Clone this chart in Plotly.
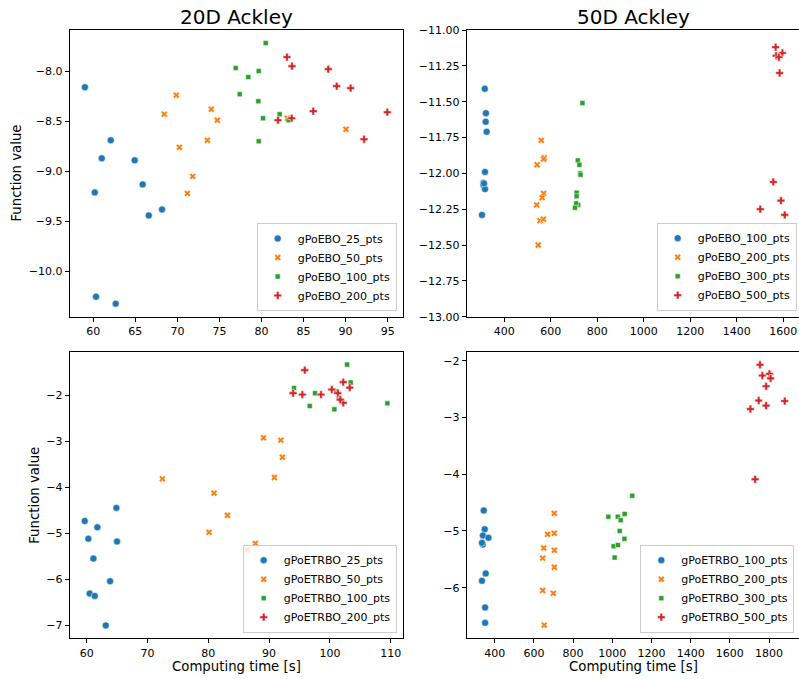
import plotly.graph_objects as go

# ---------------- data ----------------
# 20D Ackley, gPoEBO
ebo20_names = ["gPoEBO_25_pts", "gPoEBO_50_pts", "gPoEBO_100_pts", "gPoEBO_200_pts"]
ebo20_25_t = [59.0, 62.07, 61.0, 64.92, 60.17, 65.87, 66.59, 68.17, 60.32, 62.66]
ebo20_25_f = [-8.16, -8.69, -8.87, -8.89, -9.21, -9.13, -9.44, -9.38, -10.25, -10.32]
ebo20_50_t = [69.87, 68.44, 74.03, 74.74, 70.23, 73.56, 71.82, 71.18, 90.05, 83.07]
ebo20_50_f = [-8.24, -8.43, -8.38, -8.49, -8.76, -8.69, -9.05, -9.22, -8.58, -8.47]
ebo20_100_t = [80.5, 76.93, 79.67, 78.43, 77.41, 79.62, 82.16, 80.18, 79.67, 83.23]
ebo20_100_f = [-7.72, -7.97, -8.0, -8.06, -8.23, -8.30, -8.43, -8.47, -8.70, -8.49]
ebo20_200_t = [83.03, 83.63, 87.94, 88.94, 90.6, 86.16, 94.96, 81.96, 83.59, 92.19]
ebo20_200_f = [-7.86, -7.95, -7.98, -8.15, -8.17, -8.40, -8.41, -8.49, -8.47, -8.68]

# 50D Ackley, gPoEBO
ebo50_names = ["gPoEBO_100_pts", "gPoEBO_200_pts", "gPoEBO_300_pts", "gPoEBO_500_pts"]
ebo50_100_t = [316, 321, 320, 324, 317, 310, 310, 317, 304, 313]
ebo50_100_f = [-11.41, -11.58, -11.64, -11.71, -11.99, -12.065, -12.08, -12.11, -12.29, -12.07]
ebo50_200_t = [559, 572, 569, 541, 569, 563, 539, 553, 568, 546]
ebo50_200_f = [-11.77, -11.89, -11.90, -11.94, -12.14, -12.17, -12.22, -12.33, -12.32, -12.50]
ebo50_300_t = [736, 716, 723, 726, 711, 711, 718, 709, 704, 728]
ebo50_300_f = [-11.51, -11.91, -11.94, -12.00, -12.135, -12.16, -12.22, -12.21, -12.24, -12.01]
ebo50_500_t = [1567, 1596, 1569, 1581, 1584, 1557, 1590, 1606, 1501, 1460]
ebo50_500_f = [-11.12, -11.16, -11.18, -11.19, -11.30, -12.06, -12.19, -12.29, -12.25, -12.44]

# 20D Ackley, gPoETRBO
etr20_names = ["gPoETRBO_25_pts", "gPoETRBO_50_pts", "gPoETRBO_100_pts", "gPoETRBO_200_pts"]
etr20_25_t = [59.67, 60.27, 61.75, 64.88, 64.99, 61.1, 63.84, 60.49, 61.32, 63.13]
etr20_25_f = [-4.735, -5.12, -4.87, -4.45, -5.18, -5.55, -6.04, -6.31, -6.36, -7.0]
etr20_50_t = [72.45, 89.06, 91.91, 92.18, 90.87, 80.94, 83.14, 80.12, 87.74, 86.43]
etr20_50_f = [-3.82, -2.93, -2.98, -3.35, -3.79, -4.13, -4.61, -4.98, -5.22, -5.36]
etr20_100_t = [102.82, 94.1, 97.55, 103.42, 101.45, 101.0, 96.68, 100.73, 109.45, 101.8]
etr20_100_f = [-1.34, -1.85, -1.96, -1.73, -2.07, -1.92, -2.24, -2.31, -2.18, -2.12]
etr20_200_t = [95.86, 93.94, 95.47, 98.54, 100.3, 102.2, 101.3, 103.26, 102.2, 101.7]
etr20_200_f = [-1.46, -1.96, -1.99, -1.99, -1.88, -1.72, -1.96, -1.84, -2.17, -2.10]

# 50D Ackley, gPoETRBO
etr50_names = ["gPoETRBO_100_pts", "gPoETRBO_200_pts", "gPoETRBO_300_pts", "gPoETRBO_500_pts"]
etr50_100_t = [344, 349, 340, 368, 339, 354, 335, 351, 351, 335]
etr50_100_f = [-4.64, -4.97, -5.08, -5.12, -5.24, -5.75, -5.88, -6.35, -6.62, -5.21]
etr50_200_t = [704, 670, 704, 650, 704, 645, 704, 645, 699, 653]
etr50_200_f = [-4.69, -5.06, -5.04, -5.30, -5.34, -5.48, -5.64, -6.05, -6.10, -6.66]
etr50_300_t = [1102, 980, 1028, 1063, 1043, 1038, 1062, 1007, 1029, 1012]
etr50_300_f = [-4.38, -4.75, -4.75, -4.70, -4.81, -5.0, -5.14, -5.27, -5.25, -5.47]
etr50_500_t = [1754, 1766, 1802, 1808, 1785, 1747, 1880, 1785, 1705, 1729]
etr50_500_f = [-2.07, -2.26, -2.23, -2.31, -2.45, -2.70, -2.71, -2.79, -2.85, -4.09]

# tick labels
x1_ticks = [60, 65, 70, 75, 80, 85, 90, 95]
y1_ticks = [-10.0, -9.5, -9.0, -8.5, -8.0]
x2_ticks = [400, 600, 800, 1000, 1200, 1400, 1600]
y2_ticks = [-13.0, -12.75, -12.5, -12.25, -12.0, -11.75, -11.5, -11.25, -11.0]
x3_ticks = [60, 70, 80, 90, 100, 110]
y3_ticks = [-7, -6, -5, -4, -3, -2]
x4_ticks = [400, 600, 800, 1000, 1200, 1400, 1600, 1800]
y4_ticks = [-6, -5, -4, -3, -2]

titles = ["20D Ackley", "50D Ackley"]
xlabel = "Computing time [s]"
ylabel = "Function value"

# ---------------- style ----------------
COLORS = ["#1f77b4", "#ff7f0e", "#2ca02c", "#d62728"]
SYMBOLS = ["circle", "x", "square", "cross"]
SIZES = [7, 6, 5, 6.5]
FONT = "DejaVu Sans"
W, H = 799, 679


def fmt(v, d):
    s = f"{abs(v):.{d}f}"
    return ("\u2212" + s) if v < 0 else s


panels = [
    dict(ax="x", ay="y", lg="legend", names=ebo20_names,
         xs=[ebo20_25_t, ebo20_50_t, ebo20_100_t, ebo20_200_t],
         ys=[ebo20_25_f, ebo20_50_f, ebo20_100_f, ebo20_200_f]),
    dict(ax="x2", ay="y2", lg="legend2", names=ebo50_names,
         xs=[ebo50_100_t, ebo50_200_t, ebo50_300_t, ebo50_500_t],
         ys=[ebo50_100_f, ebo50_200_f, ebo50_300_f, ebo50_500_f]),
    dict(ax="x3", ay="y3", lg="legend3", names=etr20_names,
         xs=[etr20_25_t, etr20_50_t, etr20_100_t, etr20_200_t],
         ys=[etr20_25_f, etr20_50_f, etr20_100_f, etr20_200_f]),
    dict(ax="x4", ay="y4", lg="legend4", names=etr50_names,
         xs=[etr50_100_t, etr50_200_t, etr50_300_t, etr50_500_t],
         ys=[etr50_100_f, etr50_200_f, etr50_300_f, etr50_500_f]),
]

fig = go.Figure()
for p in panels:
    for i in range(4):
        fig.add_trace(go.Scatter(
            x=p["xs"][i], y=p["ys"][i], mode="markers", name=p["names"][i],
            xaxis=p["ax"], yaxis=p["ay"], legend=p["lg"],
            marker=dict(color=COLORS[i], symbol=SYMBOLS[i], size=SIZES[i],
                        line=dict(color="white", width=0.5)),
        ))

# pixel geometry -> paper fractions
L1, R1, L2, R2 = 69.7, 402.7, 466.7, 799.0
T1, B1, T2, B2 = 30.0, 316.7, 351.7, 638.3
dx1 = [L1 / W, R1 / W]
dx2 = [L2 / W, R2 / W]
dyt = [1 - B1 / H, 1 - T1 / H]
dyb = [1 - B2 / H, 1 - T2 / H]


def axis(domain, rng, ticks, dec, anchor):
    return dict(domain=domain, range=rng, anchor=anchor,
                tickmode="array", tickvals=ticks,
                ticktext=[fmt(t, dec) for t in ticks],
                showline=True, linecolor="black", linewidth=1, mirror=True,
                ticks="outside", ticklen=4, tickwidth=1, tickcolor="black",
                showgrid=False, zeroline=False, automargin=False,
                tickfont=dict(family=FONT, size=11, color="black"))


legend_common = dict(xanchor="right", yanchor="bottom",
                     bgcolor="rgba(255,255,255,0.8)", bordercolor="#cccccc",
                     borderwidth=1, font=dict(family=FONT, size=11, color="black"),
                     itemsizing="trace")

fig.update_layout(
    width=W, height=H, template="none",
    margin=dict(l=0, r=0, t=0, b=0, pad=0),
    paper_bgcolor="white", plot_bgcolor="white",
    font=dict(family=FONT, size=11, color="black"),
    xaxis=axis(dx1, [57.19, 96.79], x1_ticks, 0, "y"),
    yaxis=axis(dyt, [-10.45, -7.59], y1_ticks, 1, "x"),
    xaxis2=axis(dx2, [238.3, 1667.5], x2_ticks, 0, "y2"),
    yaxis2=axis(dyt, [-13.0, -11.0], y2_ticks, 2, "x2"),
    xaxis3=axis(dx1, [57.2, 111.97], x3_ticks, 0, "y3"),
    yaxis3=axis(dyb, [-7.28, -1.06], y3_ticks, 0, "x3"),
    xaxis4=axis(dx2, [257, 1953], x4_ticks, 0, "y4"),
    yaxis4=axis(dyb, [-6.893, -1.84], y4_ticks, 0, "x4"),
    legend=dict(x=396.7 / W, y=1 - 311 / H, **legend_common),
    legend2=dict(x=796.7 / W, y=1 - 310.7 / H, **legend_common),
    legend3=dict(x=396.7 / W, y=1 - 632.7 / H, **legend_common),
    legend4=dict(x=794.3 / W, y=1 - 632.7 / H, **legend_common),
)

ann = []
for t, cx in zip(titles, [236.2, 633.2]):
    ann.append(dict(text=t, x=cx / W, y=1 - 17 / H, xref="paper", yref="paper",
                    xanchor="center", yanchor="middle", showarrow=False,
                    font=dict(family=FONT, size=20, color="black")))
for cx, cy in [(16.3, 173.3), (33.8, 495.0)]:
    ann.append(dict(text=ylabel, x=cx / W, y=1 - cy / H, xref="paper", yref="paper",
                    xanchor="center", yanchor="middle", textangle=-90, showarrow=False,
                    font=dict(family=FONT, size=13.3, color="black")))
for cx in [236.2, 633.3]:
    ann.append(dict(text=xlabel, x=cx / W, y=1 - 666.5 / H, xref="paper", yref="paper",
                    xanchor="center", yanchor="middle", showarrow=False,
                    font=dict(family=FONT, size=13.3, color="black")))
fig.update_layout(annotations=ann)

fig.write_html("out.html")
